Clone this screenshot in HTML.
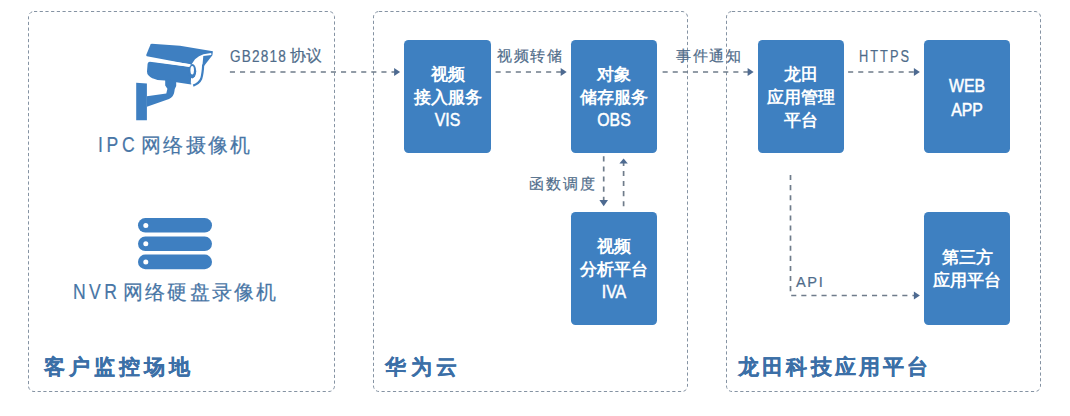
<!DOCTYPE html>
<html><head><meta charset="utf-8">
<style>
html,body{margin:0;padding:0;background:#fff;}
body{width:1070px;height:416px;position:relative;overflow:hidden;font-family:"Liberation Sans",sans-serif;}
svg.ov{position:absolute;left:0;top:0;}
.box{position:absolute;box-sizing:border-box;padding-top:2px;background:#3e80c1;border-radius:4.5px;color:#fff;font-weight:bold;font-size:17px;line-height:23px;text-align:center;display:flex;flex-direction:column;justify-content:center;}
.lt{font-size:18px;transform:scaleX(0.88);font-weight:normal;-webkit-text-stroke:0.5px #fff;}
.lbl{position:absolute;color:#4f6c8a;-webkit-text-stroke:0.2px #4f6c8a;font-size:15px;line-height:16px;white-space:nowrap;}
.dev{position:absolute;color:#4876a6;-webkit-text-stroke:0.2px #4876a6;font-size:20px;line-height:22px;white-space:nowrap;}
.ttl{position:absolute;color:#3b6fa7;font-size:21px;line-height:22px;font-weight:bold;-webkit-text-stroke:0.2px #3b6fa7;white-space:nowrap;letter-spacing:3px;}
</style></head><body>
<svg class="ov" width="1070" height="416" viewBox="0 0 1070 416">
  <g fill="none" stroke="#8593a3" stroke-width="1" stroke-dasharray="3.2 2.5">
    <rect x="28.5" y="11.5" width="306" height="380" rx="5.5"/>
    <rect x="373.5" y="11.5" width="314" height="380" rx="5.5"/>
    <rect x="726.5" y="11.5" width="314" height="380" rx="5.5"/>
  </g>
  <g fill="none" stroke="#6f7c8b" stroke-width="1.7" stroke-dasharray="5.1 5">
    <line x1="229.9" y1="72" x2="396" y2="72"/>
    <line x1="495.6" y1="72" x2="562" y2="72"/>
    <line x1="662.6" y1="72" x2="749" y2="72"/>
    <line x1="848.1" y1="72" x2="915" y2="72"/>
    <line x1="603.7" y1="156.3" x2="603.7" y2="201"/>
    <line x1="623.6" y1="206.3" x2="623.6" y2="163"/>
    <polyline points="790.5,175 790.5,295.5 915,295.5"/>
  </g>
  <g fill="#4d6a91">
    <polygon points="394.1,67.9 400.1,72 394.1,76.1"/>
    <polygon points="560.7,67.9 566.7,72 560.7,76.1"/>
    <polygon points="747.6,67.9 753.6,72 747.6,76.1"/>
    <polygon points="913.9,67.9 919.9,72 913.9,76.1"/>
    <polygon points="913.9,291.4 919.9,295.5 913.9,299.6"/>
    <polygon points="599.4,200 608,200 603.7,206.3"/>
    <polygon points="619.4,163.6 627.8,163.6 623.6,158.4"/>
  </g>
  <!-- camera icon -->
  <g fill="#3e7fc1">
    <path d="M151.8,43.7 L180,45.8 L212.9,51.3 L212.4,55.3 L203.6,66.5 L188,64 L146.9,56.3 Q146,55.8 146.3,54.8 L150.5,44.6 Q151,43.7 151.8,43.7 Z"/>
    <path d="M150,61.8 L188.5,66.8 Q191.5,67.3 191.5,70 L191.2,84.4 L164.8,80.6 L157.5,79.9 Q151.5,78.8 148.6,75.6 Q146.9,73.8 147,71.5 L147.6,63.8 Q148.1,61.7 150,61.8 Z"/>
    <path d="M165.2,79.5 L176.2,80.5 L176.2,86 Q174.8,88 174.3,92 Q173.5,97 169,99 L146.9,106.8 L146.9,96.3 L166.3,93.6 L167.4,88.8 L165.2,85.5 Z"/>
    <path d="M136.2,82.8 L146.9,83.5 L146.9,120.2 L136.2,120.2 Z"/>
  </g>
  <path fill="#fff" d="M211.2,53.1 L203.5,54.2 L199,56.2 L195,59.2 L191.6,64.2 L190.8,83.4 Q196,82.6 199.2,79.6 Q201.2,76 201.8,70 L202.4,66 L203.3,56.1 L211.4,54.9 Z"/>
  <path d="M203.2,64.5 Q202.8,73.5 201.2,78.8 Q199,83.6 193.2,85.6" fill="none" stroke="#3e7fc1" stroke-width="2.2"/>
  <ellipse cx="192.2" cy="71.2" rx="4" ry="7.3" fill="#3e7fc1"/>
  <ellipse cx="192.2" cy="70.3" rx="1.75" ry="4.2" fill="#fff"/>
  <path d="M146,59.1 L189.2,65.4" fill="none" stroke="#fff" stroke-width="2.6" stroke-linecap="round"/>
  <!-- nvr icon -->
  <g fill="#3e7fc1">
    <rect x="138" y="218" width="74" height="14.6" rx="7.3"/>
    <rect x="138" y="236.5" width="74" height="14.6" rx="7.3"/>
    <rect x="138" y="254.6" width="74" height="14.6" rx="7.3"/>
  </g>
  <g fill="#fff">
    <circle cx="145.8" cy="225.4" r="2.5"/>
    <circle cx="145.8" cy="243.8" r="2.5"/>
    <circle cx="145.8" cy="261.9" r="2.5"/>
  </g>
</svg>

<div class="box" style="left:404px;top:40px;width:87px;height:113px;"><div>视频</div><div>接入服务</div><div class="lt">VIS</div></div>
<div class="box" style="left:571px;top:40px;width:86px;height:113px;"><div>对象</div><div>储存服务</div><div class="lt">OBS</div></div>
<div class="box" style="left:571px;top:212px;width:86px;height:113px;"><div>视频</div><div>分析平台</div><div class="lt">IVA</div></div>
<div class="box" style="left:758px;top:40px;width:86px;height:113px;"><div>龙田</div><div>应用管理</div><div>平台</div></div>
<div class="box" style="left:924px;top:40px;width:86px;height:113px;line-height:24px;"><div class="lt">WEB</div><div class="lt">APP</div></div>
<div class="box" style="left:924px;top:212px;width:86px;height:113px;padding-top:0;"><div>第三方</div><div>应用平台</div></div>

<div class="lbl" style="left:230px;top:49px;font-size:16px;transform:scaleX(0.85);transform-origin:0 0;letter-spacing:1.4px;">GB2818</div>
<div class="lbl" style="left:290px;top:48px;font-size:16px;">协议</div>
<div class="lbl" style="left:497px;top:48px;letter-spacing:1.5px;">视频转储</div>
<div class="lbl" style="left:676px;top:48px;letter-spacing:1.5px;">事件通知</div>
<div class="lbl" style="left:859px;top:49px;font-size:16px;transform:scaleX(0.8);transform-origin:0 0;letter-spacing:2.5px;">HTTPS</div>
<div class="lbl" style="left:529px;top:176px;letter-spacing:2px;">函数调度</div>
<div class="lbl" style="left:796px;top:274px;letter-spacing:1.6px;font-size:14.6px;">API</div>

<div class="dev" style="left:98px;top:134px;font-size:22px;transform:scaleX(0.8);transform-origin:0 0;letter-spacing:4.6px;">IPC</div>
<div class="dev" style="left:141px;top:134px;letter-spacing:2.25px;">网络摄像机</div>
<div class="dev" style="left:73px;top:281px;font-size:22px;transform:scaleX(0.8);transform-origin:0 0;letter-spacing:4.2px;">NVR</div>
<div class="dev" style="left:123px;top:281px;letter-spacing:2.17px;">网络硬盘录像机</div>

<div class="ttl" style="left:44px;top:356px;letter-spacing:4.1px;">客户监控场地</div>
<div class="ttl" style="left:385px;top:356px;letter-spacing:4.5px;">华为云</div>
<div class="ttl" style="left:738px;top:356px;letter-spacing:3.2px;">龙田科技应用平台</div>
</body></html>
